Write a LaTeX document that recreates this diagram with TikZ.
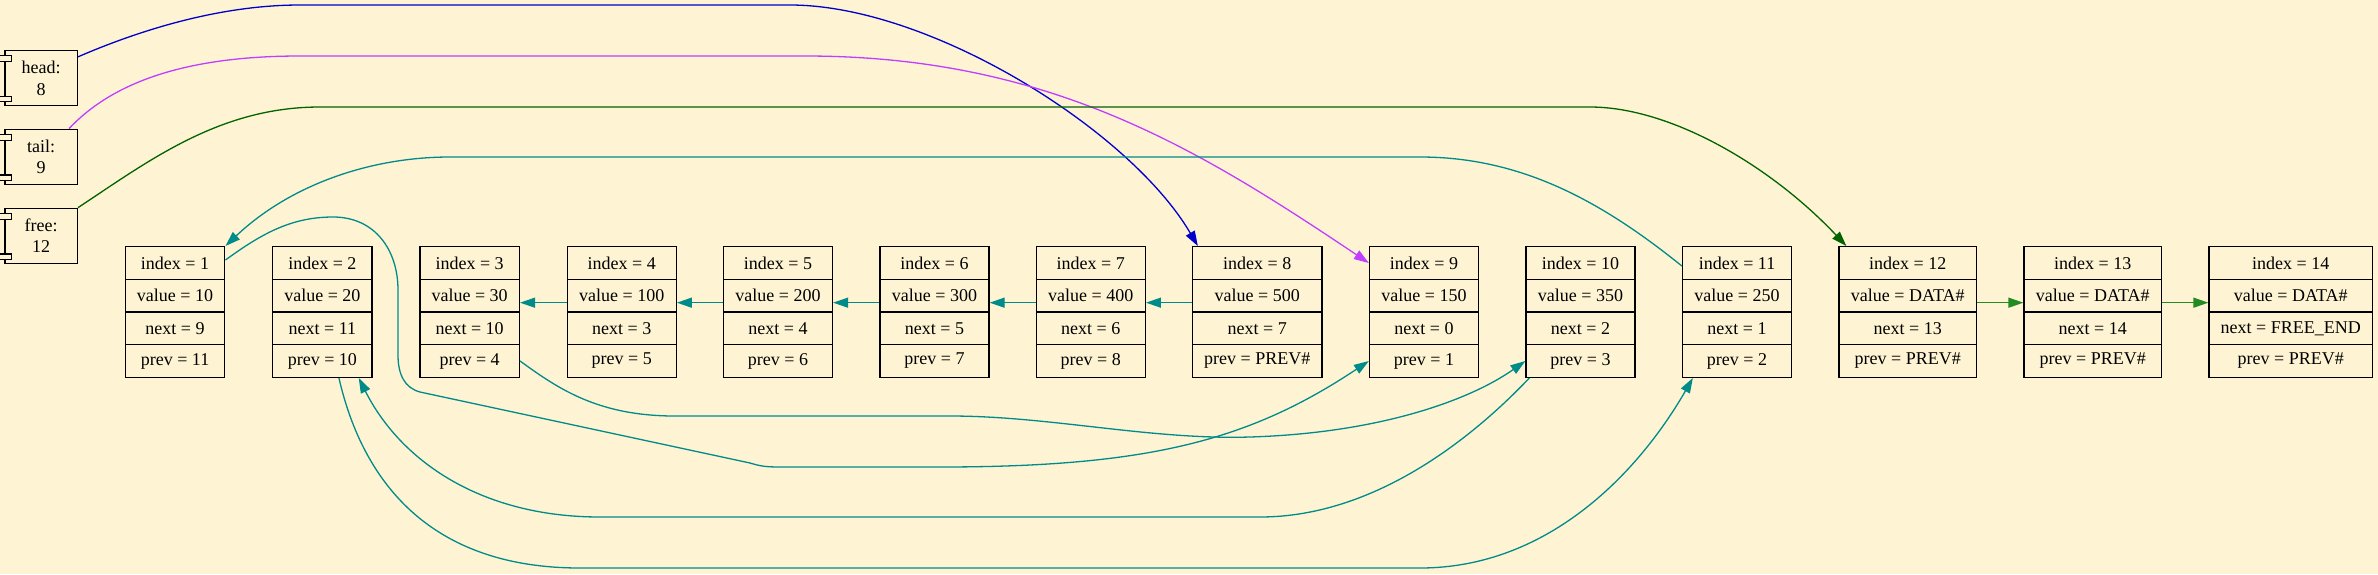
\documentclass[tikz,border=0pt]{standalone}
\usepackage{fontspec}
\setmainfont{Liberation Serif}
\usetikzlibrary{arrows.meta,calc}
\definecolor{bg}{HTML}{FEF3D2}
\definecolor{eblue}{HTML}{0000CD}
\definecolor{emag}{HTML}{BF3EFF}
\definecolor{egreen}{HTML}{006400}
\definecolor{egreenb}{HTML}{228B22}
\definecolor{eteal}{HTML}{008B8B}
\tikzset{
  cell/.style={draw=black, line width=1.3pt, fill=bg, minimum height=32.67pt, inner sep=0pt, font=\fontsize{18}{21.7}\selectfont},
  comp/.style={draw=black, line width=1.3pt, fill=bg, minimum width=72.3pt, minimum height=55pt, inner sep=0pt, align=center, font=\fontsize{18}{21.7}\selectfont},
  conn/.style={line width=1.3pt, -{Triangle[length=15pt,width=10pt]}},
  tab/.style={draw=black, line width=1.1pt, fill=bg},
}
\newcommand\mkrec[7]{%
  \node[cell, minimum width=#3pt] (#1i) at (#2,263) {index = #4};
  \node[cell, minimum width=#3pt] (#1v) at (#2,295.67) {value = #5};
  \node[cell, minimum width=#3pt] (#1n) at (#2,328.33) {next = #6};
  \node[cell, minimum width=#3pt] (#1p) at (#2,361) {prev = #7};
}
\newcommand\mktabs[1]{%
  \draw[tab] ($(#1.north west)+(-5,6)$) rectangle ++(11.7,5.7);
  \draw[tab] ($(#1.south west)+(-5,-10)$) rectangle ++(11.7,5.7);
}
\begin{document}
\begin{tikzpicture}[x=1pt,y=-1pt]
\fill[bg] (0,0) rectangle (2378,574);
\useasboundingbox (0,0) rectangle (2378,574);

% pointer boxes
\node[comp] (head) at (41.2,78) {head:\\8};
\node[comp] (tail) at (41.2,156.8) {tail:\\9};
\node[comp] (free) at (41.2,235.8) {free:\\12};
\mktabs{head}
\mktabs{tail}
\mktabs{free}

% records
\mkrec{n1}{175.05}{99.5}{1}{10}{9}{11}
\mkrec{n2}{322.35}{99.5}{2}{20}{11}{10}
\mkrec{n3}{469.65}{99.5}{3}{30}{10}{4}
\mkrec{n4}{621.7}{109}{4}{100}{3}{5}
\mkrec{n5}{778}{109}{5}{200}{4}{6}
\mkrec{n6}{934.5}{109}{6}{300}{5}{7}
\mkrec{n7}{1090.8}{109}{7}{400}{6}{8}
\mkrec{n8}{1257.25}{129.5}{8}{500}{7}{PREV\#}
\mkrec{n9}{1424}{109}{9}{150}{0}{1}
\mkrec{n10}{1580.5}{109}{10}{350}{2}{3}
\mkrec{n11}{1737}{109}{11}{250}{1}{2}
\mkrec{n12}{1907.75}{137.5}{12}{DATA\#}{13}{PREV\#}
\mkrec{n13}{2092.75}{137.5}{13}{DATA\#}{14}{PREV\#}
\mkrec{n14}{2290.75}{163.5}{14}{DATA\#}{FREE\_END}{PREV\#}

% pointer edges
\draw[conn, eblue] ($(head.north east)+(0,7)$) .. controls (140,30) and (220,5) .. (300,5)
  -- (790,5) .. controls (930,5) and (1130,130) .. ($(n8i.north west)+(6,0)$);
\draw[conn, emag] ($(tail.north east)+(-9,0)$) .. controls (110,85) and (180,56) .. (300,56)
  -- (805,56) .. controls (1050,56) and (1200,150) .. (n9i.west);
\draw[conn, egreen] (free.north east) .. controls (150,160) and (220,107) .. (320,107)
  -- (1590,107) .. controls (1670,107) and (1770,165) .. ($(n12i.north west)+(8,0)$);

% chain of value links
\draw[conn, eteal] ($(n4v.west)+(0,7)$) -- ($(n3v.east)+(0,7)$);
\draw[conn, eteal] ($(n5v.west)+(0,7)$) -- ($(n4v.east)+(0,7)$);
\draw[conn, eteal] ($(n6v.west)+(0,7)$) -- ($(n5v.east)+(0,7)$);
\draw[conn, eteal] ($(n7v.west)+(0,7)$) -- ($(n6v.east)+(0,7)$);
\draw[conn, eteal] ($(n8v.west)+(0,7)$) -- ($(n7v.east)+(0,7)$);
\draw[conn, egreenb] ($(n12v.east)+(0,7)$) -- ($(n13v.west)+(0,7)$);
\draw[conn, egreenb] ($(n13v.east)+(0,7)$) -- ($(n14v.west)+(0,7)$);

% curved teal links
\draw[conn, eteal] ($(n11i.west)+(0,3)$) .. controls (1600,200) and (1520,157) .. (1420,157)
  -- (450,157) .. controls (370,157) and (290,185) .. (n1i.north east);
\draw[conn, eteal] ($(n1i.east)+(0,-3)$) .. controls (260,235) and (290,217) .. (333,217)
  .. controls (375,217) and (398,250) .. (398,290) -- (398,355)
  .. controls (398,375) and (405,388) .. (420,392) -- (750,463)
  .. controls (760,466) and (765,467) .. (780,467) -- (940,467)
  .. controls (1150,467) and (1250,440) .. (n9p.west);
\draw[conn, eteal] (n3p.east) .. controls (560,390) and (600,417) .. (680,416)
  -- (950,416) .. controls (1050,416) and (1150,440) .. (1250,437)
  .. controls (1380,433) and (1470,400) .. (n10p.west);
\draw[conn, eteal] ($(n10p.south west)+(4,0)$) .. controls (1480,430) and (1380,517) .. (1260,517)
  -- (600,517) .. controls (480,517) and (400,460) .. ($(n2p.south east)+(-14,0)$);
\draw[conn, eteal] ($(n2p.south west)+(67,0)$) .. controls (360,470) and (420,568) .. (580,568)
  -- (1420,568) .. controls (1550,568) and (1640,470) .. ($(n11p.south west)+(11,0)$);
\end{tikzpicture}
\end{document}
